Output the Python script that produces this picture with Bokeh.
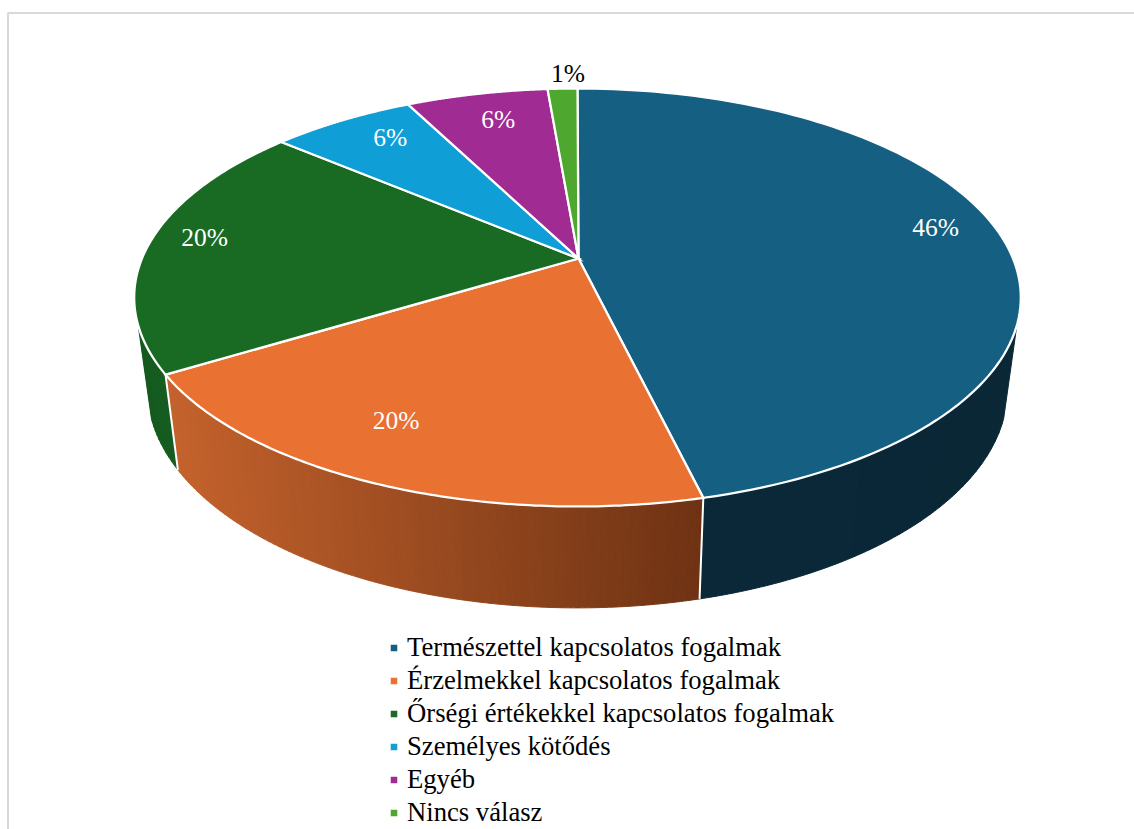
import numpy as np
from bokeh.plotting import figure
from bokeh.models import Range1d, Legend, LegendItem, ColumnDataSource
from bokeh.core.properties import value
from bokeh.embed import file_html
from bokeh.resources import INLINE

categories = ["Természettel kapcsolatos fogalmak", "Érzelmekkel kapcsolatos fogalmak",
              "Őrségi értékekkel kapcsolatos fogalmak", "Személyes kötődés", "Egyéb", "Nincs válasz"]
values = [46.2, 20.1, 19.9, 6.3, 6.2, 1.3]
labels = ["46%", "20%", "20%", "6%", "6%", "1%"]

colors = ["#156082", "#E97132", "#196B24", "#0F9ED5", "#A02B93", "#4EA72E"]
label_colors = ["white", "white", "white", "white", "white", "black"]
label_radius = [0.861, 0.787, 0.880, 0.832, 0.818, 1.106]
label_turn = [-3.8, 4.95, 2.4, 2.7, 1.0, 1.0]

FONT = "Liberation Serif"
cx, cy, Sx, Sy, k = 578.0, 258.0, 435.5, 201.7, 0.1866
sx_bottom, sy_bottom, drop = 0.97, 1.046, 90.0
tan_r, tan_l = 108.2, 251.8


def top(deg, r=1.0):
    a = np.radians(np.asarray(deg, dtype=float))
    u, v = r * np.sin(a), r * np.cos(a)
    w = 1 + k * v
    return cx - r + Sx * u / w, cy - Sy * v / w


def bottom(deg):
    x, y = top(deg)
    return cx + sx_bottom * (x - cx), cy + drop + sy_bottom * (y - cy)


def mix(a, b, t):
    ca = [int(a[i:i + 2], 16) for i in (1, 3, 5)]
    cb = [int(b[i:i + 2], 16) for i in (1, 3, 5)]
    return "#%02x%02x%02x" % tuple(int(round(p + (q - p) * t)) for p, q in zip(ca, cb))


p = figure(width=1134, height=829, output_backend="svg", toolbar_location=None,
           x_range=Range1d(0, 1134), y_range=Range1d(829, 0),
           min_border=0, outline_line_color=None, margin=(0, -8, -16, 0))
p.axis.visible = False
p.grid.visible = False

# frame (top and left edges are the ones in view)
p.line([1134, 7.5, 7.5], [12.5, 12.5, 829], line_color="#D9D9D9", line_width=2)

edges = np.cumsum([0] + values) / sum(values) * 360.0

# walls
wall_x, wall_y, wall_c = [], [], []


def wall(a0, a1, c0, c1, n):
    steps = np.linspace(a0, a1, n + 1)
    lo, hi = bottom(a0)[0], bottom(a1)[0]
    for s0, s1 in zip(steps[:-1], steps[1:]):
        arc = np.linspace(s0, s1, 5)
        xt, yt = top(arc)
        xb, yb = bottom(arc)
        wall_x.append(np.r_[xt, xb[::-1]])
        wall_y.append(np.r_[yt, yb[::-1]])
        xm = bottom((s0 + s1) / 2)[0]
        wall_c.append(mix(c0, c1, (xm - lo) / (hi - lo)))


wall(tan_r, edges[1], "#0A2736", "#0A2838", 30)
wall(edges[1], edges[2], "#6E3213", "#C4622C", 90)
wall(edges[2], tan_l, "#155C20", "#145A1E", 12)
p.patches(wall_x, wall_y, fill_color=wall_c, line_color=wall_c, line_width=1)

# wall separators
sep = [edges[1], edges[2]]
p.multi_line([[float(top(a)[0]), float(bottom(a)[0])] for a in sep],
             [[float(top(a)[1]), float(bottom(a)[1])] for a in sep],
             line_color="white", line_width=2)

# top faces
items = []
for i, name in enumerate(categories):
    arc = np.linspace(edges[i], edges[i + 1], 120)
    xs, ys = top(arc)
    r = p.patch(np.r_[cx, xs], np.r_[cy, ys], fill_color=colors[i], line_color="white", line_width=2.25,
                line_join="miter")
    items.append(LegendItem(label=value(name), renderers=[r]))

# data labels
mids = (edges[:-1] + edges[1:]) / 2 + np.array(label_turn)
lx, ly = top(mids, np.array(label_radius))
src = ColumnDataSource(dict(x=lx, y=ly, t=labels, c=label_colors))
p.text("x", "y", text="t", source=src, text_color="c", text_align="center", text_baseline="middle",
       text_font=value(FONT), text_font_size="25.5px")

legend = Legend(items=items, location=(388, 0.5), orientation="vertical",
                background_fill_alpha=0, border_line_color=None, padding=0, margin=0,
                glyph_width=11, glyph_height=11, label_standoff=8, spacing=0,
                label_height=33, label_text_font=FONT, label_text_font_size="26.67px",
                label_text_color="black", label_text_baseline="middle")
p.add_layout(legend)

open("out.html", "w").write(file_html(p, INLINE))
